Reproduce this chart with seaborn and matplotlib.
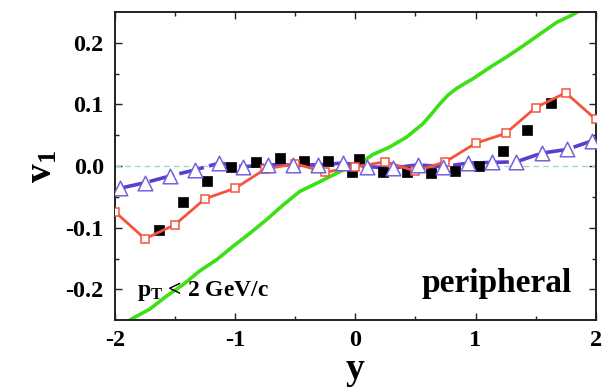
import matplotlib
matplotlib.use("Agg")
import matplotlib.pyplot as plt
import seaborn as sns
import pandas as pd

# ---- data ----
sq_x = [-1.63, -1.43, -1.23, -1.03, -0.83, -0.63, -0.43, -0.23, -0.03,
        0.03, 0.23, 0.43, 0.63, 0.83, 1.03, 1.23, 1.43, 1.63]
sq_y = [-0.103, -0.058, -0.024, -0.001, 0.006, 0.013, 0.008, 0.008, -0.010,
        0.011, -0.010, -0.009, -0.012, -0.008, 0.000, 0.024, 0.058, 0.103]

red_x = [-2.0, -1.75, -1.5, -1.25, -1.0, -0.75, -0.5, -0.25, 0.0,
         0.25, 0.5, 0.75, 1.0, 1.25, 1.5, 1.75, 2.0]
red_y = [-0.074, -0.118, -0.095, -0.053, -0.036, -0.005, 0.004, -0.010, -0.001,
         0.007, -0.008, 0.007, 0.037, 0.053, 0.095, 0.119, 0.076]

tri_x = [-1.96, -1.75, -1.54, -1.33, -1.13, -0.93, -0.73, -0.52, -0.31, -0.10,
         0.10, 0.31, 0.52, 0.73, 0.94, 1.14, 1.34, 1.55, 1.76, 1.97]
tri_y = [-0.036, -0.027, -0.016, -0.006, 0.005, -0.001, 0.002, 0.002, 0.002, 0.005,
         -0.001, -0.003, 0.002, -0.001, 0.005, 0.006, 0.007, 0.021, 0.027, 0.041]

green_x = [-2.0, -1.861, -1.709, -1.57, -1.43, -1.293, -1.154, -1.016, -0.877,
           -0.739, -0.6, -0.461, -0.323, -0.185, -0.046, 0.01, 0.148, 0.287,
           0.426, 0.564, 0.64, 0.703, 0.77, 0.842, 0.91, 0.98, 1.118, 1.257,
           1.395, 1.534, 1.673, 1.811, 2.0]
green_y = [-0.268, -0.248, -0.232, -0.211, -0.192, -0.170, -0.152, -0.130, -0.109,
           -0.087, -0.063, -0.041, -0.028, -0.0145, -0.001, 0.0005, 0.019, 0.031,
           0.047, 0.069, 0.086, 0.101, 0.115, 0.126, 0.134, 0.142, 0.160, 0.177,
           0.195, 0.214, 0.233, 0.246, 0.268]

xticks = [-2, -1, 0, 1, 2]
yticks = [-0.2, -0.1, 0.0, 0.1, 0.2]
xtick_labels = ["-2", "-1", "0", "1", "2"]
ytick_labels = ["-0.2", "-0.1", "0.0", "0.1", "0.2"]

# ---- style ----
sns.set_style("ticks")
plt.rcParams['font.family'] = ['Liberation Serif', 'DejaVu Serif']
plt.rcParams['font.weight'] = 'bold'
plt.rcParams['text.color'] = 'black'
plt.rcParams['axes.labelcolor'] = 'black'
plt.rcParams['xtick.color'] = 'black'
plt.rcParams['ytick.color'] = 'black'
plt.rcParams['mathtext.fontset'] = 'custom'
plt.rcParams['mathtext.rm'] = 'Liberation Serif'
plt.rcParams['mathtext.bf'] = 'Liberation Serif:bold'
plt.rcParams['mathtext.it'] = 'Liberation Serif:italic'

fig = plt.figure(figsize=(6.11, 3.89), dpi=100)
ax = fig.add_axes([0.188, 0.177, 0.787, 0.792])

df_g = pd.DataFrame({"x": green_x, "y": green_y})
df_r = pd.DataFrame({"x": red_x, "y": red_y})
df_t = pd.DataFrame({"x": tri_x, "y": tri_y})
df_s = pd.DataFrame({"x": sq_x, "y": sq_y})

ax.axhline(0.0, color="#9ad8cc", lw=1.0, ls=(0, (4, 3)), zorder=1)

sns.lineplot(data=df_g, x="x", y="y", ax=ax, sort=False, color="#3ce014",
             lw=2.6, zorder=2)
sns.lineplot(data=df_t, x="x", y="y", ax=ax, sort=False, color="#5a3ed0",
             lw=2.6, zorder=3, dashes=False)
ax.lines[-1].set_dashes((7, 1.5))
sns.scatterplot(data=df_s, x="x", y="y", ax=ax, marker="s", s=62,
                color="black", edgecolor="black", linewidth=0.5, zorder=4)
sns.lineplot(data=df_r, x="x", y="y", ax=ax, sort=False, color="#f5543c",
             lw=2.0, zorder=5, marker="s", markersize=5.5,
             markerfacecolor="white", markeredgecolor="#f5543c",
             markeredgewidth=1.1)
sns.scatterplot(data=df_t, x="x", y="y", ax=ax, marker="^", s=110,
                facecolor="white", edgecolor="#7462dc", linewidth=1.1,
                zorder=6)

ax.set_xlim(-2, 2)
ax.set_ylim(-0.25, 0.25)
ax.set_xticks(xticks)
ax.set_xticklabels(xtick_labels)
ax.set_yticks(yticks)
ax.set_yticklabels(ytick_labels)
ax.set_xticks([-1.5, -0.5, 0.5, 1.5], minor=True)
ax.set_yticks([-0.15, -0.05, 0.05, 0.15], minor=True)
ax.tick_params(which="both", direction="in", top=True, right=True,
               color="#222222", width=1.0)
ax.tick_params(which="major", length=5, labelsize=17.5, pad=7)
ax.tick_params(axis="y", which="major", pad=8)
ax.tick_params(which="minor", length=3)
for lab in ax.get_xticklabels() + ax.get_yticklabels():
    lab.set_fontweight("bold")
for sp in ax.spines.values():
    sp.set_linewidth(1.4)
    sp.set_color("#222222")

ax.set_xlabel("y", fontsize=27, fontweight="bold", labelpad=1)
ax.set_ylabel(r"$\mathbf{v_1}$", fontsize=27, labelpad=4)

ax.text(-1.82, -0.211, r"$\mathbf{p_T}$ < 2 GeV/c", fontsize=17,
        fontweight="bold", ha="left", va="baseline")
ax.text(1.80, -0.205, "peripheral", fontsize=24, fontweight="bold",
        ha="right", va="baseline")

fig.savefig("out.png", dpi=100)
